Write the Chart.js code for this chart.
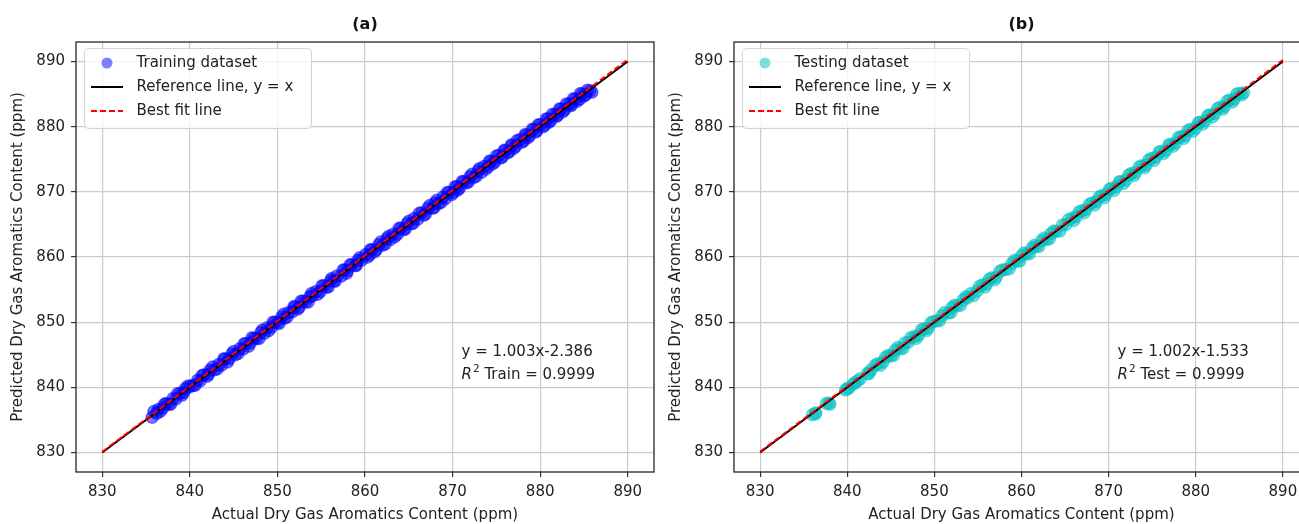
<!DOCTYPE html>
<html>
<head>
<meta charset="utf-8">
<script src="https://cdn.jsdelivr.net/npm/chart.js@4.4.1/dist/chart.umd.min.js"></script>
<style>
  html, body { margin: 0; padding: 0; background: #fff; width: 1299px; height: 524px; overflow: hidden; position: relative; }
  canvas { position: absolute; top: 0; }
  #chartA { left: 0; }
  #chartB { left: 660px; }
</style>
</head>
<body>
<canvas id="chartA" width="680" height="524"></canvas>
<canvas id="chartB" width="690" height="524"></canvas>
<script>
const tickVals = [830, 840, 850, 860, 870, 880, 890];
const refLine = [830, 890];

// (a) training set: actual vs predicted
const trainActual = [
  835.7, 836.2, 836.4, 836.9, 837.3, 837.6, 838.1, 838.4, 838.9, 839.3,
  839.5, 840.0, 840.4, 840.9, 841.2, 841.6, 842.1, 842.3, 842.8, 843.3,
  843.6, 844.0, 844.5, 844.8, 845.2, 845.7, 846.1, 846.4, 846.9, 847.3,
  847.6, 848.1, 848.5, 848.8, 849.3, 849.7, 850.0, 850.5, 850.8, 851.3,
  851.7, 852.0, 852.5, 852.9, 853.2, 853.7, 854.0, 854.4, 854.9, 855.3,
  855.6, 856.1, 856.4, 856.8, 857.3, 857.7, 858.0, 858.5, 858.9, 859.2,
  859.6, 860.1, 860.5, 860.8, 861.3, 861.6, 862.0, 862.5, 862.9, 863.2,
  863.7, 864.1, 864.4, 864.8, 865.3, 865.6, 866.0, 866.5, 866.9, 867.2,
  867.7, 868.0, 868.4, 868.9, 869.2, 869.6, 870.1, 870.5, 870.8, 871.3,
  871.6, 872.0, 872.4, 872.9, 873.3, 873.6, 874.1, 874.4, 874.8, 875.3,
  875.7, 876.0, 876.5, 876.8, 877.2, 877.7, 878.1, 878.4, 878.8, 879.3,
  879.6, 880.0, 880.5, 880.9, 881.2, 881.7, 882.0, 882.4, 882.8, 883.3,
  883.6, 884.0, 884.5, 884.8, 885.2, 885.7,
  835.9, 836.6, 837.1, 837.8, 838.6, 839.1, 839.8, 840.6, 841.4, 842.0,
  842.6, 843.1, 843.9, 844.3, 845.0, 845.5, 846.2, 846.7, 847.1, 847.9,
  848.3, 849.0, 849.5, 850.2, 850.7, 851.1, 851.9, 852.3, 852.7, 853.5,
  853.9, 854.6, 855.1, 855.8, 856.2, 856.6, 857.5, 857.9, 858.3, 859.0,
  859.4, 860.3, 860.6, 861.1, 861.8, 862.3, 862.7, 863.4, 863.9, 864.6,
  865.0, 865.5, 866.2, 866.7, 867.4, 867.9, 868.2, 868.7, 869.4, 869.9,
  870.3, 870.6, 871.1, 871.8, 872.2, 872.7, 873.1, 873.8, 874.2, 874.6,
  875.0, 875.5, 875.9, 876.3, 876.7, 877.0, 877.4, 877.9, 878.3, 878.6,
  879.1, 879.5, 879.8, 880.3, 880.7, 881.0, 881.4, 881.9, 882.2, 882.6,
  883.0, 883.5, 883.8, 884.2, 884.6, 885.0, 885.4, 885.9
];
const trainPred = [
  835.4, 836.0, 836.6, 836.8, 837.5, 837.4, 838.3, 838.2, 839.1, 839.2,
  839.8, 840.1, 840.3, 841.1, 841.0, 841.9, 842.0, 842.6, 842.7, 843.5,
  843.4, 844.3, 844.4, 845.1, 845.0, 845.9, 845.9, 846.7, 846.8, 847.5,
  847.5, 848.4, 848.3, 849.1, 849.2, 850.0, 849.9, 850.8, 850.6, 851.5,
  851.6, 852.3, 852.3, 853.2, 853.1, 853.9, 854.0, 854.7, 854.7, 855.6,
  855.4, 856.4, 856.3, 857.1, 857.1, 858.0, 857.9, 858.8, 858.7, 859.5,
  859.5, 860.4, 860.3, 861.1, 861.1, 861.9, 861.8, 862.8, 862.7, 863.5,
  863.5, 864.4, 864.2, 865.1, 865.1, 865.9, 865.8, 866.8, 866.6, 867.5,
  867.5, 868.3, 868.2, 869.2, 869.0, 869.9, 869.9, 870.8, 870.6, 871.6,
  871.4, 872.3, 872.2, 873.2, 873.0, 873.9, 873.9, 874.7, 874.6, 875.6,
  875.4, 876.3, 876.2, 877.1, 877.0, 878.0, 877.8, 878.7, 878.6, 879.6,
  879.4, 880.3, 880.2, 881.2, 880.9, 881.9, 881.8, 882.7, 882.6, 883.5,
  883.4, 884.2, 884.2, 885.0, 884.9, 885.5,
  836.3, 836.3, 837.4, 837.4, 839.0, 838.8, 840.2, 840.3, 841.8, 841.7,
  843.1, 842.8, 844.4, 843.9, 845.5, 845.2, 846.7, 846.3, 847.6, 847.5,
  848.8, 848.7, 850.0, 849.8, 851.2, 850.8, 852.4, 852.0, 853.2, 853.1,
  854.4, 854.3, 855.6, 855.4, 856.7, 856.3, 858.0, 857.5, 858.8, 858.7,
  859.9, 860.0, 861.1, 860.8, 862.3, 862.0, 863.2, 863.1, 864.4, 864.3,
  865.5, 865.2, 866.7, 866.4, 867.9, 867.6, 868.7, 868.4, 869.9, 869.6,
  870.8, 870.3, 871.6, 871.5, 872.7, 872.4, 873.6, 873.5, 874.7, 874.3,
  875.5, 875.2, 876.4, 876.0, 877.2, 876.7, 877.9, 877.6, 878.8, 878.3,
  879.6, 879.2, 880.3, 880.0, 881.2, 880.7, 881.9, 881.6, 882.7, 882.3,
  883.5, 883.2, 884.3, 883.9, 885.1, 884.7, 885.6, 885.3
];

// (b) testing set
const testActual = [
  836.0, 836.4, 837.6, 838.0, 839.8, 840.2, 840.7, 841.2, 842.3, 842.7,
  843.5, 844.1, 844.4, 845.0, 845.5, 846.1, 846.6, 847.0, 847.7, 848.2,
  848.8, 849.3, 849.9, 850.3, 850.9, 851.6, 852.0, 852.6, 853.3, 853.8,
  854.2, 854.9, 855.5, 856.0, 856.6, 857.1, 857.8, 858.2, 858.9, 859.5,
  860.0, 860.6, 861.2, 861.7, 862.3, 862.9, 863.4, 864.0, 864.7, 865.1,
  865.8, 866.3, 866.9, 867.4, 868.1, 868.6, 869.2, 869.7, 870.3, 870.9,
  871.4, 872.0, 872.6, 873.1, 873.8, 874.3, 874.9, 875.4, 876.0, 876.6,
  877.1, 877.7, 878.3, 878.8, 879.4, 880.0, 880.5, 881.1, 881.6, 882.2,
  882.8, 883.3, 883.9, 884.4, 885.0, 885.5,
  836.3, 837.9, 840.0, 840.9, 841.5, 842.5, 843.2, 843.8, 844.7, 845.3,
  845.8, 846.4, 847.3, 847.9, 848.5, 849.1, 849.6, 850.6, 851.2, 851.9,
  852.3, 853.0, 853.6, 854.5, 855.2, 855.8, 856.3, 856.9, 857.5, 858.6,
  859.2, 859.8, 860.3, 860.9, 861.5, 862.0, 862.6, 863.2, 863.7, 864.4,
  865.4, 866.0, 866.6, 867.2, 867.8, 868.4, 868.9, 869.5, 870.1, 870.6,
  871.2, 871.7, 872.3, 872.9, 873.5, 874.1, 874.6, 875.2, 875.8, 876.3,
  876.9, 877.4, 878.0, 878.6, 879.1, 879.7, 880.3, 880.8, 881.4, 881.9,
  882.5, 883.1, 883.6, 884.2, 884.7, 885.3
];
const testPred = [
  835.8, 836.1, 837.5, 837.4, 839.6, 839.9, 840.5, 841.0, 842.1, 842.6,
  843.6, 843.9, 844.6, 844.8, 845.7, 845.9, 846.8, 846.9, 847.8, 848.0,
  849.0, 849.1, 850.1, 850.2, 851.0, 851.4, 852.2, 852.5, 853.4, 853.7,
  854.4, 854.8, 855.7, 855.9, 856.8, 856.9, 858.0, 858.1, 859.0, 859.4,
  860.2, 860.5, 861.4, 861.6, 862.5, 862.7, 863.6, 863.9, 864.9, 865.0,
  866.0, 866.2, 867.1, 867.3, 868.3, 868.5, 869.4, 869.6, 870.5, 870.8,
  871.6, 871.8, 872.8, 873.0, 874.0, 874.1, 875.1, 875.3, 876.2, 876.4,
  877.3, 877.5, 878.5, 878.6, 879.6, 879.8, 880.7, 880.9, 881.8, 882.0,
  883.0, 883.1, 884.1, 884.2, 885.1, 885.2,
  835.9, 837.6, 839.8, 840.7, 841.3, 842.1, 843.4, 843.4, 844.9, 844.9,
  846.1, 846.0, 847.6, 847.5, 848.8, 848.7, 849.9, 850.2, 851.5, 851.5,
  852.6, 852.6, 853.9, 854.1, 855.5, 855.4, 856.6, 856.5, 857.8, 858.2,
  859.5, 859.4, 860.6, 860.5, 861.8, 861.6, 862.9, 862.8, 864.0, 864.0,
  865.7, 865.6, 866.9, 866.8, 868.1, 868.0, 869.2, 869.1, 870.4, 870.2,
  871.5, 871.3, 872.6, 872.5, 873.8, 873.7, 874.9, 874.8, 876.1, 875.9,
  877.2, 877.0, 878.3, 878.2, 879.4, 879.3, 880.6, 880.4, 881.7, 881.5,
  882.8, 882.7, 883.9, 883.8, 885.0, 884.9
];

const panelTitles = ['(a)', '(b)'];
const scatterLabels = ['Training dataset', 'Testing dataset'];
const scatterColors = ['rgba(0,0,255,0.5)', 'rgba(0,191,191,0.5)'];
const fitSlope = [1.003, 1.002];
const fitIntercept = [-2.386, -1.533];
const r2Labels = ['Train', 'Test'];
const r2Values = ['0.9999', '0.9999'];

Chart.defaults.font.family = '"DejaVu Sans", sans-serif';
Chart.defaults.font.size = 15;
Chart.defaults.color = '#222';

// little legend symbols
function symbol(kind, color) {
  const c = document.createElement('canvas');
  c.width = 44; c.height = 14;
  const g = c.getContext('2d');
  if (kind === 'dot') {
    g.fillStyle = color;
    g.beginPath(); g.arc(22, 7, 5.5, 0, Math.PI * 2); g.fill();
  } else {
    g.strokeStyle = color; g.lineWidth = 2;
    if (kind === 'dash') g.setLineDash([6, 3]);
    g.beginPath(); g.moveTo(6, 7); g.lineTo(38, 7); g.stroke();
  }
  return c;
}

const panelDeco = {
  id: 'panelDeco',
  beforeDraw(chart) {
    const lg = chart.legend;
    if (lg && !lg._boxed) {
      const orig = lg.draw.bind(lg);
      lg.draw = function () {
        const a = chart.chartArea, ctx = chart.ctx;
        ctx.save();
        ctx.beginPath();
        if (ctx.roundRect) ctx.roundRect(a.left + 8.5, a.top + 6.5, 227, 80, 4);
        else ctx.rect(a.left + 8.5, a.top + 6.5, 227, 80);
        ctx.fillStyle = 'rgba(255,255,255,0.8)';
        ctx.fill();
        ctx.strokeStyle = '#d4d4d4';
        ctx.lineWidth = 1;
        ctx.stroke();
        ctx.restore();
        orig();
      };
      lg._boxed = true;
    }
  },
  afterDraw(chart, args, opts) {
    const a = chart.chartArea, ctx = chart.ctx;
    const w = a.right - a.left, h = a.bottom - a.top;
    ctx.save();
    ctx.strokeStyle = '#262626';
    ctx.lineWidth = 1.3;
    ctx.strokeRect(a.left, a.top, w, h);

    ctx.fillStyle = '#111';
    ctx.font = 'bold 16px "DejaVu Sans"';
    ctx.textAlign = 'center';
    ctx.textBaseline = 'middle';
    ctx.fillText(opts.title, (a.left + a.right) / 2, 25);

    const i = opts.idx;
    const x = a.left + 0.667 * w;
    ctx.fillStyle = '#222';
    ctx.textAlign = 'left';
    ctx.font = '15px "DejaVu Sans"';
    ctx.fillText('y = ' + fitSlope[i].toFixed(3) + 'x' + fitIntercept[i].toFixed(3), x, a.bottom - 0.279 * h);
    const y2 = a.bottom - 0.226 * h;
    ctx.font = 'italic 15px "DejaVu Sans"';
    ctx.fillText('R', x, y2);
    let dx = ctx.measureText('R').width + 1;
    ctx.font = '10.5px "DejaVu Sans"';
    ctx.fillText('2', x + dx, y2 - 6);
    dx += ctx.measureText('2').width;
    ctx.font = '15px "DejaVu Sans"';
    ctx.fillText(' ' + r2Labels[i] + ' = ' + r2Values[i], x + dx, y2);
    ctx.restore();
  }
};

function axis(title, isY, fitSize, titlePad) {
  return {
    type: 'linear',
    min: 827,
    max: 893,
    afterBuildTicks: s => { s.ticks = tickVals.map(v => ({ value: v })); },
    afterFit: s => { if (isY) s.width = fitSize; else s.height = fitSize; },
    grid: { color: '#cccccc', lineWidth: 1.2, drawTicks: true, tickLength: 5, tickColor: '#333', tickWidth: 1.2 },
    border: { display: false },
    ticks: { padding: 6, color: '#222', font: { size: 15 } },
    title: { display: true, text: title, color: '#222', font: { size: 15 }, padding: titlePad }
  };
}

function makePanel(id, idx, actual, pred, pad) {
  const pts = actual.map((v, k) => ({ x: v, y: pred[k] }));
  const fit = refLine.map(v => ({ x: v, y: fitSlope[idx] * v + fitIntercept[idx] }));
  const ref = refLine.map(v => ({ x: v, y: v }));
  const legendItems = [
    { text: scatterLabels[idx], pointStyle: symbol('dot', scatterColors[idx]), fontColor: '#222', hidden: false, lineWidth: 0 },
    { text: 'Reference line, y = x', pointStyle: symbol('line', '#000'), fontColor: '#222', hidden: false, lineWidth: 0 },
    { text: 'Best fit line', pointStyle: symbol('dash', '#ff0000'), fontColor: '#222', hidden: false, lineWidth: 0 }
  ];
  return new Chart(document.getElementById(id), {
    type: 'scatter',
    data: {
      datasets: [
        { label: 'Best fit line', data: fit, showLine: true, pointRadius: 0, borderColor: '#ff0000', borderWidth: 2, borderDash: [6, 3], order: 1 },
        { label: 'Reference line, y = x', data: ref, showLine: true, pointRadius: 0, borderColor: '#000000', borderWidth: 2, order: 2 },
        {
          label: scatterLabels[idx], data: pts, pointRadius: 6,
          backgroundColor: scatterColors[idx], borderColor: scatterColors[idx], borderWidth: 1.5, order: 3
        }
      ]
    },
    options: {
      responsive: false,
      animation: false,
      devicePixelRatio: 1,
      events: [],
      layout: { padding: { left: pad.left, right: pad.right, top: 42, bottom: 0 } },
      scales: {
        x: axis('Actual Dry Gas Aromatics Content (ppm)', false, 52, { top: 0, bottom: 0 }),
        y: axis('Predicted Dry Gas Aromatics Content (ppm)', true, 72, { top: 5, bottom: 0 })
      },
      plugins: {
        tooltip: { enabled: false },
        legend: {
          position: 'chartArea',
          align: 'start',
          // empty title only pushes the entries down into the box
          title: { display: true, text: '', font: { size: 2, lineHeight: 1 }, padding: { top: 44.5, bottom: 0 } },
          labels: {
            usePointStyle: true,
            pointStyleWidth: 44,
            padding: 9,
            color: '#222',
            font: { size: 15 },
            generateLabels: () => legendItems
          }
        },
        panelDeco: { title: panelTitles[idx], idx: idx }
      }
    },
    plugins: [panelDeco]
  });
}

makePanel('chartA', 0, trainActual, trainPred, { left: 4, right: 26 });
makePanel('chartB', 1, testActual, testPred, { left: 2, right: 41 });
</script>
</body>
</html>
